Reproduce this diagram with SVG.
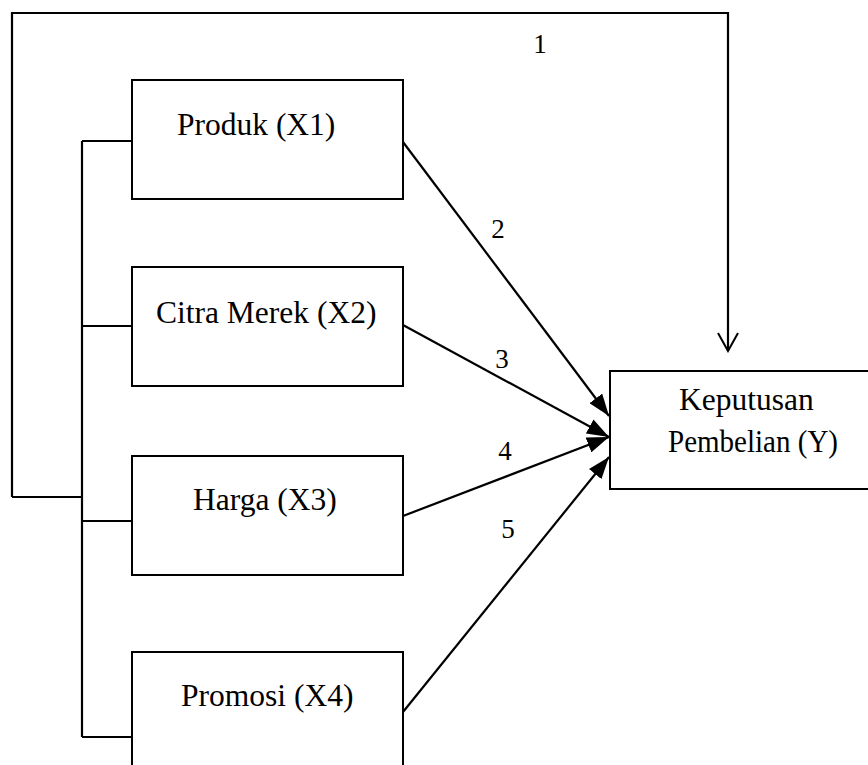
<svg xmlns="http://www.w3.org/2000/svg" width="868" height="765" viewBox="0 0 868 765">
<defs>
<style>
.box{fill:#fff;stroke:#000;stroke-width:2}
.ln{fill:none;stroke:#000;stroke-width:2.2}
.t{font-family:"Liberation Serif","Times New Roman",serif;font-size:31.5px;fill:#000}
.n{font-family:"Liberation Serif","Times New Roman",serif;font-size:27px;fill:#000;text-anchor:middle}
</style>
<marker id="fa" viewBox="0 0 22 16" refX="22" refY="8" markerWidth="22" markerHeight="16" markerUnits="userSpaceOnUse" orient="auto">
<path d="M0,0 L22,8 L0,16 Z" fill="#000"/>
</marker>
<marker id="oa" viewBox="0 0 22 22" refX="20" refY="11" markerWidth="22" markerHeight="22" markerUnits="userSpaceOnUse" orient="auto">
<path d="M2,1 L20,11 L2,21" fill="none" stroke="#000" stroke-width="2"/>
</marker>
</defs>
<rect width="868" height="765" fill="#fff"/>
<g id="connectors">
<path class="ln" d="M12,497 L12,13 L728,13 L728,351" marker-end="url(#oa)"/>
<path class="ln" d="M12,497 L82,497"/>
<path class="ln" d="M82,141 L82,737"/>
<path class="ln" d="M82,141 L132,141 M82,326 L132,326 M82,521 L132,521 M82,737 L132,737"/>
<line class="ln" x1="403" y1="142" x2="609" y2="416" marker-end="url(#fa)"/>
<line class="ln" x1="403" y1="325" x2="609" y2="437" marker-end="url(#fa)"/>
<line class="ln" x1="403" y1="516" x2="609" y2="437" marker-end="url(#fa)"/>
<line class="ln" x1="403" y1="712" x2="609" y2="457" marker-end="url(#fa)"/>
<text class="n" x="540" y="53">1</text>
<text class="n" x="498" y="238">2</text>
<text class="n" x="502" y="368">3</text>
<text class="n" x="505" y="460">4</text>
<text class="n" x="508" y="538">5</text>
</g>
<g id="produk">
<rect class="box" x="132" y="80" width="271" height="119"/>
<text class="t" x="177" y="135">Produk (X1)</text>
</g>
<g id="citra">
<rect class="box" x="132" y="267" width="271" height="119"/>
<text class="t" x="156" y="323">Citra Merek (X2)</text>
</g>
<g id="harga">
<rect class="box" x="132" y="456" width="271" height="119"/>
<text class="t" x="193" y="510">Harga (X3)</text>
</g>
<g id="promosi">
<rect class="box" x="132" y="652" width="271" height="130"/>
<text class="t" x="181" y="706">Promosi (X4)</text>
</g>
<g id="keputusan">
<rect class="box" x="610" y="371" width="270" height="118"/>
<text class="t" x="679" y="410">Keputusan</text>
<text class="t" x="668" y="452" textLength="170" lengthAdjust="spacingAndGlyphs">Pembelian (Y)</text>
</g>
</svg>
